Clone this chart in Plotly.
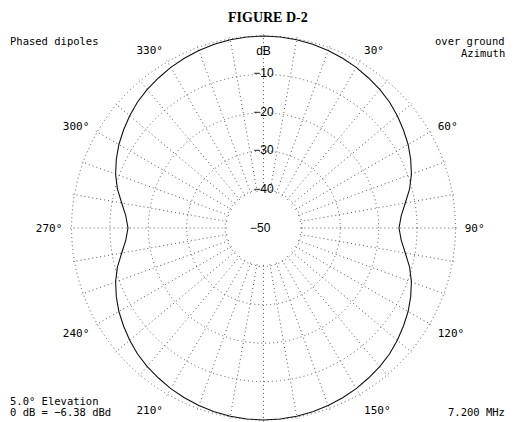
import plotly.graph_objects as go

# azimuth pattern, 5 deg steps, 0..360 (dB relative to max)
azimuth = list(range(0, 365, 5))
gain_db = [
    0.0, -0.05, -0.2, -0.45, -0.8, -1.2, -1.7, -2.3, -2.9, -3.6,
    -4.5, -5.5, -6.5, -7.7, -9.0, -10.6, -12.5, -14.0, -14.7,
    -14.0, -12.5, -10.6, -9.0, -7.7, -6.5, -5.5, -4.5, -3.6, -2.9,
    -2.3, -1.7, -1.2, -0.8, -0.45, -0.2, -0.05, 0.0,
    -0.05, -0.2, -0.45, -0.8, -1.2, -1.7, -2.3, -2.9, -3.6,
    -4.5, -5.5, -6.5, -7.7, -9.0, -10.6, -12.5, -14.0, -14.7,
    -14.0, -12.5, -10.6, -9.0, -7.7, -6.5, -5.5, -4.5, -3.6, -2.9,
    -2.3, -1.7, -1.2, -0.8, -0.45, -0.2, -0.05, 0.0,
]

ring_vals = [-40, -30, -20, -10, 0]
ring_labels = ["−40", "−30", "−20", "−10"]
spoke_vals = list(range(0, 360, 10))
spoke_text = ["" if (a % 30 or a in (0, 180)) else f"{a}°" for a in spoke_vals]

# page body has an 8px margin, so the figure is sized/positioned for that
OFF = 8
W, H = 515 - OFF, 422 - OFF
RIGHT = 507   # right edge that stays visible on the page
cx, cy, R = 263.5 - OFF, 194.0, 193.5   # centre / outer radius in px (cy from bottom)
mono = "DejaVu Sans Mono"

fig = go.Figure()
fig.add_trace(go.Scatterpolar(
    r=gain_db, theta=azimuth, mode="lines",
    line=dict(color="#111", width=1.1),
    hoverinfo="skip",
))
fig.add_trace(go.Scatterpolar(
    r=[-40, -30, -20, -10, -4.2], theta=[0] * 5, mode="text",
    text=ring_labels + ["dB"],
    textfont=dict(family="Liberation Sans", size=12, color="black"),
    hoverinfo="skip",
))

grid = dict(gridcolor="#555", gridwidth=1, griddash="1px,3px")
fig.update_layout(
    width=W, height=H,
    margin=dict(l=0, r=0, t=0, b=0),
    paper_bgcolor="white",
    showlegend=False,
    polar=dict(
        domain=dict(x=[(cx - R) / W, (cx + R) / W], y=[(cy - R) / H, (cy + R) / H]),
        bgcolor="white",
        hole=0.1905,
        radialaxis=dict(range=[-40.4, 0.4], tickvals=ring_vals, showticklabels=False,
                        showline=False, ticks="", **grid),
        angularaxis=dict(rotation=90, direction="clockwise", tickvals=spoke_vals,
                         ticktext=spoke_text, showline=False,
                         ticks="outside", ticklen=5, tickcolor="rgba(0,0,0,0)",
                         tickfont=dict(family=mono, size=11, color="black"), **grid),
    ),
)

notes = [
    ("<b>FIGURE D-2</b>", 268, 8, "center", "top", dict(family="Liberation Serif", size=14)),
    ("Phased dipoles", OFF, 41, "left", "middle", dict(family=mono, size=10.5)),
    ("over ground", RIGHT, 41, "right", "middle", dict(family=mono, size=10.5)),
    ("Azimuth", RIGHT, 53, "right", "middle", dict(family=mono, size=10.5)),
    ("5.0° Elevation", OFF, 401, "left", "middle", dict(family=mono, size=10.5)),
    ("0 dB = −6.38 dBd", OFF, 412, "left", "middle", dict(family=mono, size=10.5)),
    ("7.200 MHz", RIGHT, 412, "right", "middle", dict(family=mono, size=10.5)),
    ("−50", 260, 228, "center", "middle", dict(family="Liberation Sans", size=12)),
]
for txt, x, y, xa, ya, font in notes:
    fig.add_annotation(text=txt, x=(x - OFF) / W, y=1 - (y - OFF) / H,
                       xref="paper", yref="paper",
                       xanchor=xa, yanchor=ya, showarrow=False,
                       font=dict(color="black", **font))

fig.write_html("out.html")
